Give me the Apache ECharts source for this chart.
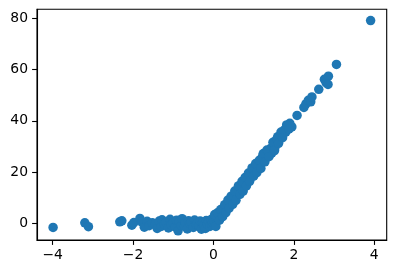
<!DOCTYPE html>
<html>
<head>
<meta charset="utf-8">
<script src="https://cdn.jsdelivr.net/npm/echarts@6/dist/echarts.min.js"></script>
<style>html,body{margin:0;padding:0;background:#fff;}#c{width:396px;height:274px;}</style>
</head>
<body>
<div id="c"></div>
<script>
const xTicks = [-4, -2, 0, 2, 4];
const yTicks = [0, 20, 40, 60, 80];

const pointsNeg = [
  [-3.99,-1.6],[-3.2,0.2],[-3.11,-1.3],[-2.33,0.6],[-2.28,1.0],[-2.03,-0.7],[-1.98,0.3],[-1.83,1.9],
  [-1.78,0.5],[-1.72,-1.5],[-1.65,0.8],[-1.6,-0.9],[-1.52,0.2],[-1.45,-0.4],[-1.4,-2.0],[-1.35,0.9],
  [-1.3,-1.2],[-1.28,1.4],[-1.22,-0.3],[-1.18,0.4],[-1.12,-1.8],[-1.08,1.6],[-1.05,-0.6],[-1.0,0.2],
  [-0.95,-1.4],[-0.92,1.2],[-0.88,-2.9],[-0.85,0.7],[-0.8,-0.8],[-0.78,1.8],[-0.72,-1.1],[-0.7,0.3],
  [-0.65,-2.2],[-0.62,1.0],[-0.58,-0.2],[-0.55,0.6],[-0.5,-1.6],[-0.47,1.3],[-0.43,-0.5],[-0.4,0.1],
  [-0.36,-1.0],[-0.33,0.9],[-0.3,-2.3],[-0.27,0.4],[-0.24,-0.7],[-0.2,-2.0],[-0.18,1.1],[-0.15,-0.3],
  [-0.12,0.6],[-0.09,-1.2],[-0.06,1.5],[-0.04,-0.6],[-0.02,0.3]
];
const pointsPos = [
  [0.02,0.8],[0.05,2.6],[0.08,0.9],[0.1,2.5],[0.12,1.6],[0.14,3.9],[0.17,2.8],[0.2,4.8],[0.22,3.5],
  [0.25,5.9],[0.27,4.6],[0.3,6.8],[0.32,5.5],[0.35,7.9],[0.37,6.4],[0.4,8.8],[0.42,7.6],[0.45,9.9],
  [0.47,8.5],[0.5,10.8],[0.52,9.6],[0.55,11.9],[0.58,10.8],[0.6,13.1],[0.63,11.7],[0.65,14.0],
  [0.68,12.9],[0.7,15.1],[0.73,13.9],[0.75,16.0],[0.78,15.0],[0.8,17.2],[0.83,16.0],[0.85,18.1],
  [0.88,17.0],[0.9,19.3],[0.93,18.0],[0.95,20.2],[0.98,19.2],[1.0,21.0],[1.03,19.9],[1.06,22.1],
  [1.1,21.2],[1.13,23.3],[1.17,22.6],[1.2,24.7],[1.22,26.0],[1.26,25.3],[1.3,26.5],[1.36,27.9],
  [1.4,26.9],[1.43,29.3],[1.45,27.4],[1.5,30.8],[1.53,29.6],[1.56,32.4],[1.6,33.8],[1.64,32.6],
  [1.7,34.7],[1.76,36.4],[1.8,35.6],[1.85,38.0],[1.9,39.0],[1.95,37.6],[2.08,42.1],[2.25,45.2],
  [2.3,46.6],[2.36,48.0],[2.42,47.4],[2.45,49.3],[2.62,52.3],[2.76,56.2],[2.8,54.9],[2.86,57.4],
  [2.85,54.2],[3.06,62.0],[3.91,79.1]
];
const pointsPosSpread = [
  [0.03,3.4],[0.06,-1.2],[0.1,4.1],[0.15,1.2],[0.18,5.4],[0.23,2.6],[0.28,7.3],[0.31,4.2],
  [0.36,9.1],[0.39,5.9],[0.44,10.6],[0.48,7.4],[0.53,12.6],[0.56,9.0],[0.62,14.6],[0.66,11.3],
  [0.71,16.4],[0.74,12.6],[0.79,17.9],[0.82,14.6],[0.87,19.6],[0.9,16.4],[0.96,21.6],[1.0,18.4],
  [1.05,23.3],[1.08,19.8],[1.14,24.6],[1.18,21.4],[1.24,27.2],[1.28,24.0],[1.33,28.6],[1.38,26.0],
  [1.48,31.6],[1.52,28.4],[1.58,33.0],[1.62,31.2],[1.68,35.6],[1.72,33.4],[1.82,38.4],[1.88,36.8]
];

const fmt = v => (v < 0 ? '\u2212' + Math.abs(v) : String(v));
const font = { fontFamily: 'DejaVu Sans', fontSize: 13.9, color: '#000' };

const chart = echarts.init(document.getElementById('c'), null, { renderer: 'canvas' });
chart.setOption({
  animation: false,
  backgroundColor: '#fff',
  grid: { left: 37, right: 9.3, top: 9.3, bottom: 34, show: true, borderColor: '#000', borderWidth: 1.1, backgroundColor: 'transparent' },
  xAxis: {
    type: 'value', min: -4.39, max: 4.31,
    axisLine: { show: true, onZero: false, lineStyle: { color: '#000', width: 1.1 } },
    axisTick: { show: true, length: 4.9, lineStyle: { color: '#000', width: 1.1 }, customValues: xTicks },
    axisLabel: Object.assign({ margin: 8, formatter: fmt, customValues: xTicks }, font),
    splitLine: { show: false }
  },
  yAxis: {
    type: 'value', min: -6.5, max: 83.5,
    axisLine: { show: true, onZero: false, lineStyle: { color: '#000', width: 1.1 } },
    axisTick: { show: true, length: 4.9, lineStyle: { color: '#000', width: 1.1 }, customValues: yTicks },
    axisLabel: Object.assign({ margin: 9, formatter: fmt, customValues: yTicks }, font),
    splitLine: { show: false }
  },
  series: [{
    type: 'scatter',
    data: pointsNeg.concat(pointsPos, pointsPosSpread),
    symbolSize: 9.5,
    itemStyle: { color: '#1f77b4', opacity: 1 },
    emphasis: { disabled: true }
  }]
});
</script>
</body>
</html>
